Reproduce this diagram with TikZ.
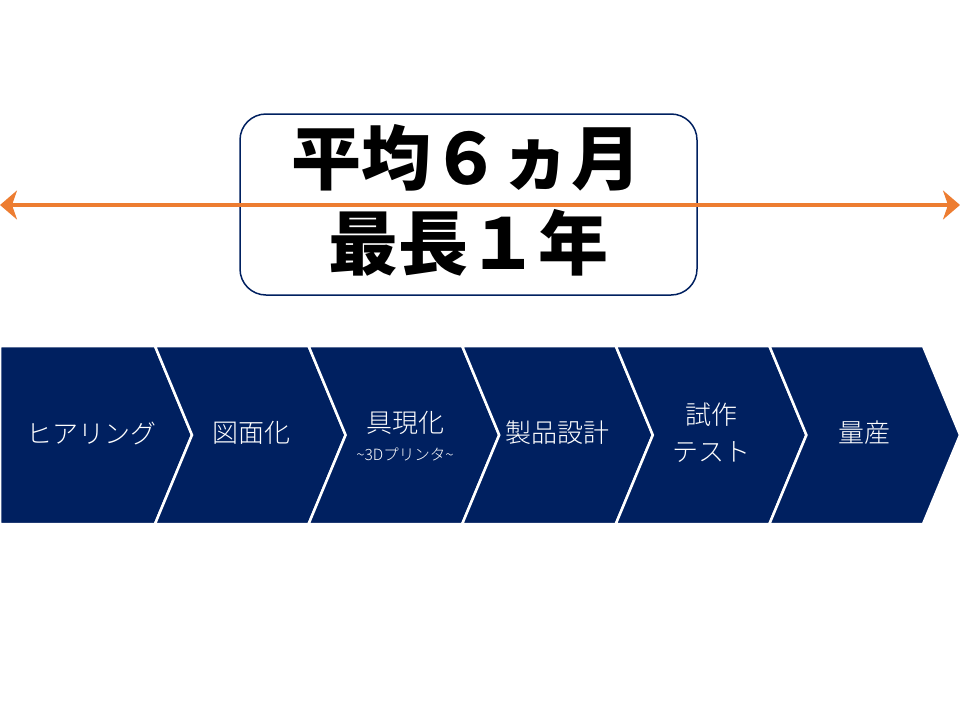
\documentclass[tikz,border=0pt]{standalone}
\usepackage{fontspec}
\setmainfont{Noto Sans CJK JP}
\newfontfamily\lightfont{Noto Sans CJK JP Light}
\usetikzlibrary{arrows.meta}
\definecolor{navy}{HTML}{002060}
\definecolor{accent}{HTML}{ED7D31}

\tikzset{
chevron/.style={
  fill=navy,
  draw=white,
  line width=2.5pt,
  line join=miter,
},
steplabel/.style={
  text=white,
  align=center,
  inner sep=0pt,
  font=\lightfont\fontsize{26}{37}\selectfont,
},
period/.style={
  text=black,
  inner sep=0pt,
  font=\fontsize{70}{70}\selectfont\bfseries,
},
}

\begin{document}
\begin{tikzpicture}[x=1pt, y=-1pt]
\useasboundingbox (0,0) rectangle (960,720);

%period box
\node[draw=navy, line width=1.5pt, fill=white, rounded corners=26pt,
  minimum width=457pt, minimum height=181pt](box) at (468.5,204.5) {};
\node[period](average) at (466,158) {平均６ヵ月};
\node[period](longest) at (468,243) {最長１年};

%time span arrow
\coordinate(spanleft) at (0,205);
\coordinate(spanright) at (960,205);
\draw[accent, line width=4pt, {Stealth[length=17pt, width=29pt, inset=5pt]}-{Stealth[length=17pt, width=29pt, inset=5pt]}]
  (spanleft) -- (spanright);

%process chevrons
\draw[chevron] (0,346) -- (155,346) -- (192,435) -- (155,524) -- (0,524) -- cycle;
\foreach \i in {1,...,5}{
  \pgfmathsetmacro{\back}{1.4+153.6*\i}
  \pgfmathsetmacro{\front}{1.4+153.6*(\i+1)}
  \draw[chevron] (\back,346) -- (\front,346) -- (\front+37,435)
    -- (\front,524) -- (\back,524) -- (\back+37,435) -- cycle;
}

%step labels
\node[steplabel](hearing) at (91,433) {ヒアリング};
\node[steplabel](drawing) at (251,433) {図面化};
\node[steplabel](mockup) at (405,423) {具現化};
\node[steplabel, font=\lightfont\fontsize{15.5}{17}\selectfont](printer) at (405,454) {\textasciitilde3Dプリンタ\textasciitilde};
\node[steplabel](design) at (557,433) {製品設計};
\node[steplabel](trial) at (711,433) {試作\\テスト};
\node[steplabel](massprod) at (864,433) {量産};

\end{tikzpicture}
\end{document}
